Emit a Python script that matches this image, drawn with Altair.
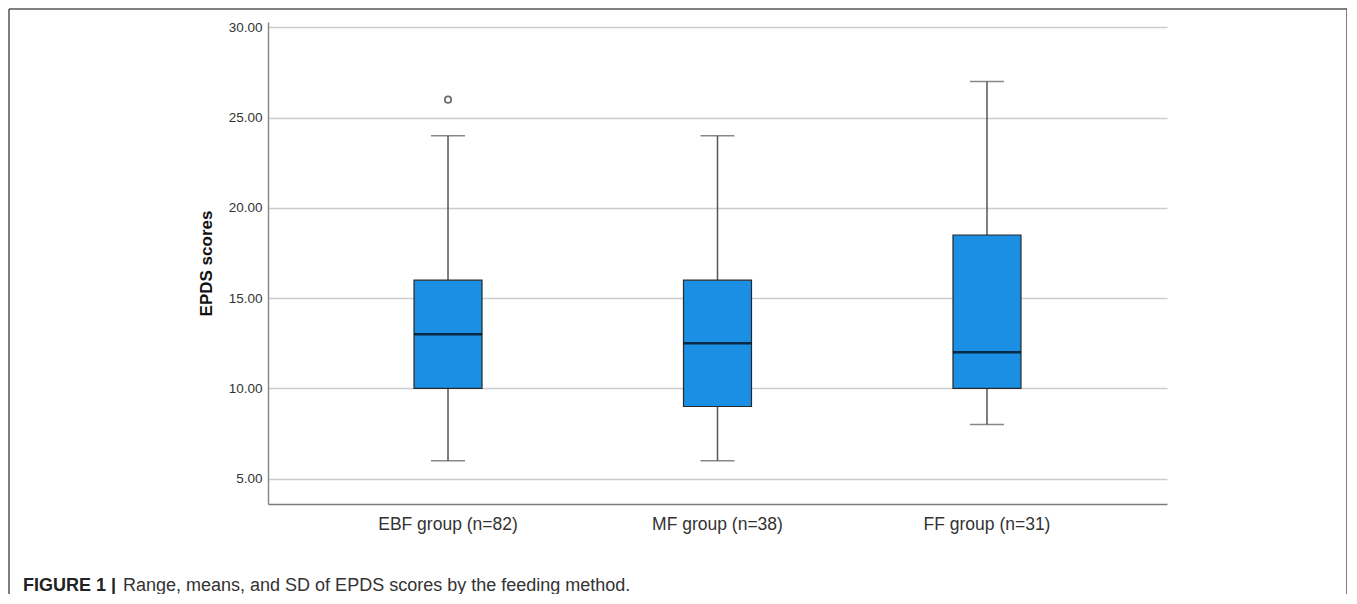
import altair as alt
import pandas as pd

groups = ["EBF group (n=82)", "MF group (n=38)", "FF group (n=31)"]
mins = [6, 6, 8]
q1s = [10, 9, 10]
medians = [13, 12.5, 12]
q3s = [16, 16, 18.5]
maxs = [24, 24, 27]
outlier_groups = ["EBF group (n=82)"]
outlier_values = [26]
y_ticks = [5, 10, 15, 20, 25, 30]

FONT = "Liberation Sans"
BOX_COLOR = "#1A8FE3"

stats = pd.DataFrame({"group": groups, "min": mins, "q1": q1s, "median": medians,
                      "q3": q3s, "max": maxs})
outliers = pd.DataFrame({"group": outlier_groups, "value": outlier_values})

W, H = 899, 482

xenc = alt.X("group:N", sort=groups, title=None,
             scale=alt.Scale(paddingInner=0, paddingOuter=0.168),
             axis=alt.Axis(labelAngle=0, ticks=False, labelPadding=11, labelFontSize=17.5,
                           labelFont=FONT, labelColor="#333333", domainColor="#7a7a7a",
                           domainWidth=1.5, grid=False))
yscale = alt.Scale(domain=[3.6, 30.3], nice=False, zero=False)
yaxis = alt.Axis(values=y_ticks, format=".2f", ticks=False, labelPadding=6,
                 labelFontSize=13.5, labelFont=FONT, labelColor="#333333",
                 domainColor="#8a8a8a", domainWidth=1.5, grid=True,
                 gridColor="#cccccc", gridWidth=1.5,
                 title="EPDS scores", titleFont=FONT, titleFontSize=17,
                 titleFontWeight="bold", titleColor="#111111", titleAngle=270,
                 titleX=-62, titleY=H / 2, titleAlign="center", titleBaseline="middle")

base = alt.Chart(stats)

low_whisker = base.mark_rule(color="#555555", strokeWidth=1.5).encode(
    x=xenc, y=alt.Y("min:Q", scale=yscale, axis=yaxis), y2="q1:Q")
high_whisker = base.mark_rule(color="#555555", strokeWidth=1.5).encode(
    x=xenc, y=alt.Y("q3:Q", scale=yscale), y2="max:Q")
cap_low = base.mark_tick(color="#555555", size=34, thickness=1.5, orient="horizontal").encode(
    x=xenc, y=alt.Y("min:Q", scale=yscale))
cap_high = base.mark_tick(color="#555555", size=34, thickness=1.5, orient="horizontal").encode(
    x=xenc, y=alt.Y("max:Q", scale=yscale))
box = base.mark_bar(size=68, color=BOX_COLOR, stroke="#2a2a2a", strokeWidth=1.2).encode(
    x=xenc, y=alt.Y("q1:Q", scale=yscale), y2="q3:Q")
median = base.mark_tick(color="#000000", size=68, thickness=2.5, orient="horizontal").encode(
    x=xenc, y=alt.Y("median:Q", scale=yscale))
outlier_pts = alt.Chart(outliers).mark_point(shape="circle", size=40, filled=False,
                                              color="#333333", strokeWidth=1.8).encode(
    x=xenc, y=alt.Y("value:Q", scale=yscale))

one = alt.Data(values=[{"a": 1}])
frame_left = alt.Chart(one).mark_rule(color="#555555", strokeWidth=1.5).encode(
    x=alt.value(-259), y=alt.value(-13), y2=alt.value(574))
frame_top = alt.Chart(one).mark_rule(color="#555555", strokeWidth=1.5).encode(
    x=alt.value(-259), x2=alt.value(1079), y=alt.value(-13))
frame_right = alt.Chart(one).mark_rule(color="#555555", strokeWidth=1.5).encode(
    x=alt.value(1079), y=alt.value(-13), y2=alt.value(574))

cap_bold = alt.Chart(one).mark_text(text="FIGURE 1 |", font=FONT, fontSize=18,
                                    fontWeight="bold", color="#222222", align="left",
                                    baseline="alphabetic").encode(
    x=alt.value(-245), y=alt.value(569))
cap_rest = alt.Chart(one).mark_text(
    text="Range, means, and SD of EPDS scores by the feeding method.", font=FONT,
    fontSize=18, color="#333333", align="left", baseline="alphabetic").encode(
    x=alt.value(-145), y=alt.value(569))

chart = alt.layer(low_whisker, high_whisker, cap_low, cap_high, box, median, outlier_pts,
                  frame_left, frame_top, frame_right, cap_bold, cap_rest).properties(
    width=W, height=H,
    autosize=alt.AutoSizeParams(type="none"),
    padding={"left": 260, "top": 14, "right": 180, "bottom": 90},
    background="white",
).configure_view(stroke=None)

chart.save("out.html", embed_options={"renderer": "svg", "actions": False})
